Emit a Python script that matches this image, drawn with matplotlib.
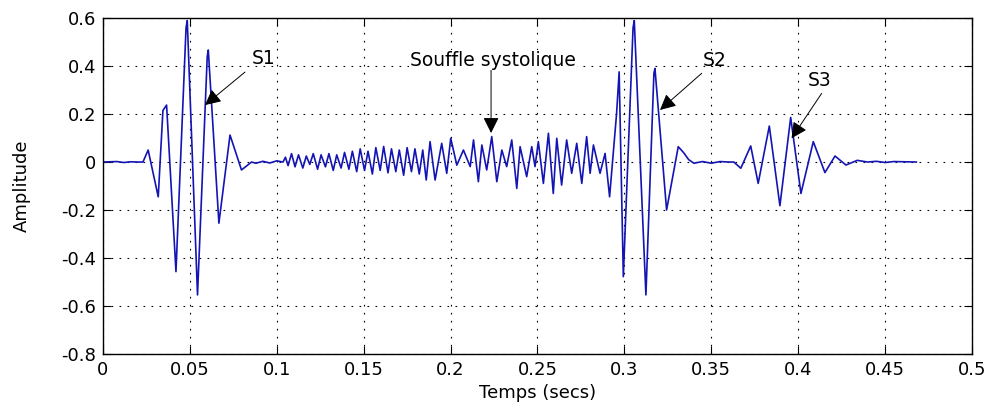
import numpy as np
import matplotlib.pyplot as plt

plt.rcParams['font.family'] = ['DejaVu Sans']

# S1 (premier bruit cardiaque)
t_s1 = [0.0, 0.008, 0.012, 0.016, 0.020, 0.023, 0.026, 0.0318, 0.0345, 0.0366,
        0.042, 0.0478, 0.0485, 0.0544, 0.0600, 0.0606, 0.0667, 0.0731, 0.0797,
        0.0855]
a_s1 = [0.0, 0.002, -0.002, 0.001, 0.0, 0.0, 0.05, -0.145, 0.215, 0.2375,
        -0.457, 0.56, 0.59, -0.554, 0.44, 0.467, -0.255, 0.1125, -0.033,
        0.0]

# pause + souffle systolique
t_mur = [0.088, 0.092, 0.096, 0.100, 0.1036, 0.1050, 0.1065, 0.1085, 0.1105,
         0.1125, 0.1150, 0.1170, 0.1190, 0.1210, 0.1235, 0.1255, 0.1280,
         0.1300, 0.1325, 0.1345, 0.1370, 0.1390, 0.1415, 0.1435, 0.1460,
         0.1480, 0.1505, 0.1525, 0.1550, 0.1570, 0.1595, 0.1615, 0.1640,
         0.1660, 0.1685, 0.1705, 0.1730, 0.1750, 0.1775, 0.1795, 0.1820,
         0.1840, 0.1860, 0.1882, 0.1911, 0.1949, 0.1978, 0.2001, 0.2036,
         0.2074, 0.2113, 0.2132, 0.2160, 0.2180, 0.2208, 0.2237, 0.2266,
         0.2295, 0.2323, 0.2352, 0.2381, 0.2400, 0.2438, 0.2467, 0.2486,
         0.2505, 0.2534, 0.2563, 0.2591, 0.2611, 0.2639, 0.2668, 0.2697,
         0.2726, 0.2755, 0.2783, 0.2803, 0.2822, 0.2860, 0.2889, 0.2915]
a_mur = [-0.005, 0.003, -0.004, 0.005, 0.0, 0.020, -0.015, 0.035, -0.020,
         0.030, -0.025, 0.025, -0.010, 0.035, -0.030, 0.030, -0.020,
         0.035, -0.035, 0.030, -0.025, 0.040, -0.030, 0.045, -0.040,
         0.055, -0.035, 0.045, -0.050, 0.060, -0.035, 0.065, -0.045,
         0.055, -0.040, 0.050, -0.055, 0.060, -0.040, 0.055, -0.050,
         0.050, -0.075, 0.085, -0.075, 0.078, -0.047, 0.099, -0.013,
         0.050, -0.019, 0.092, -0.082, 0.071, -0.033, 0.106, -0.082,
         0.050, -0.019, 0.092, -0.110, 0.064, -0.061, 0.064, -0.019,
         0.085, -0.089, 0.120, -0.131, 0.099, -0.096, 0.092, -0.047,
         0.078, -0.089, 0.106, -0.047, 0.071, -0.047, 0.036, -0.145]

# S2
t_s2 = [0.2955, 0.2970, 0.2994, 0.3050, 0.3057, 0.3124, 0.3170, 0.3176,
        0.3243, 0.3310, 0.3340, 0.3370, 0.3400, 0.3450, 0.3500, 0.3550,
        0.3600, 0.3630]
a_s2 = [0.20, 0.376, -0.478, 0.56, 0.59, -0.554, 0.37, 0.39,
        -0.20, 0.064, 0.040, 0.010, -0.005, 0.002, -0.005, 0.002,
        0.0, 0.0]

# S3
t_s3 = [0.3670, 0.3727, 0.3770, 0.3834, 0.3895, 0.3957, 0.4016, 0.4087,
        0.4154, 0.4212, 0.4275, 0.4340, 0.4400, 0.4450, 0.4500, 0.4550, 0.4680]
a_s3 = [-0.026, 0.067, -0.089, 0.150, -0.182, 0.186, -0.131, 0.085,
        -0.044, 0.025, -0.0125, 0.007, 0.0, 0.003, -0.002, 0.002, 0.0]

xtick_labels = ['0', '0.05', '0.1', '0.15', '0.2', '0.25', '0.3',
                '0.35', '0.4', '0.45', '0.5']
ytick_labels = ['-0.8', '-0.6', '-0.4', '-0.2', '0', '0.2', '0.4', '0.6']

t = np.concatenate([t_s1, t_mur, t_s2, t_s3])
amp = np.concatenate([a_s1, a_mur, a_s2, a_s3])

fig = plt.figure(figsize=(9.92, 4.12), dpi=100)
ax = fig.add_axes([0.1038, 0.141, 0.876, 0.815])

ax.plot(t, amp, color='#1414b4', lw=1.2)

ax.set_xlim(0, 0.5)
ax.set_ylim(-0.8, 0.6)
ax.set_xticks(np.linspace(0, 0.5, 11))
ax.set_yticks(np.linspace(-0.8, 0.6, 8))
ax.set_xticklabels(xtick_labels)
ax.set_yticklabels(ytick_labels)
ax.grid(True, linestyle=(0, (1.5, 5.7)), color='black', lw=0.8)
ax.tick_params(direction='in', top=True, right=True, length=6,
               labelsize=13, colors='black', pad=5)
for sp in ax.spines.values():
    sp.set_linewidth(1.0)

ax.set_xlabel('Temps (secs)', fontsize=13, labelpad=4)
ax.set_ylabel('Amplitude', fontsize=13, labelpad=22)

arrow = dict(arrowstyle='-|>', color='black', lw=0.7,
             mutation_scale=24, shrinkA=0, shrinkB=0)
fs = 13.5
ax.annotate('', xy=(0.0587, 0.2375), xytext=(0.0817, 0.375), arrowprops=arrow)
ax.text(0.0857, 0.433, 'S1', fontsize=fs, va='center', ha='left')

ax.annotate('', xy=(0.2233, 0.121), xytext=(0.2233, 0.385), arrowprops=arrow)
ax.text(0.2244, 0.425, 'Souffle systolique', fontsize=fs,
        va='center', ha='center', bbox=dict(fc='white', ec='none', pad=0.5))

ax.annotate('', xy=(0.3205, 0.217), xytext=(0.3445, 0.37), arrowprops=arrow)
ax.text(0.3452, 0.425, 'S2', fontsize=fs, va='center', ha='left')

ax.annotate('', xy=(0.3962, 0.099), xytext=(0.4135, 0.286), arrowprops=arrow)
ax.text(0.4056, 0.342, 'S3', fontsize=fs, va='center', ha='left')

fig.savefig('out.png', dpi=100)
